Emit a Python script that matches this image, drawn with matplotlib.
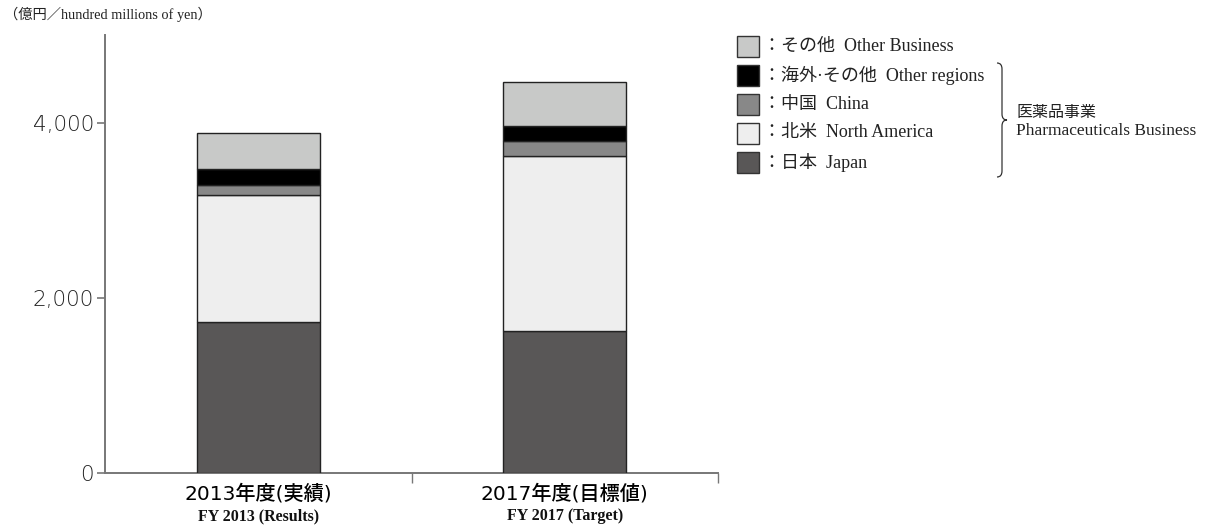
import matplotlib
matplotlib.use('Agg')
import matplotlib.pyplot as plt
from matplotlib.patches import Rectangle, PathPatch
from matplotlib.path import Path

# 売上高 (億円) : 2013年度実績 / 2017年度目標
years_jp = ['2013年度(実績)', '2017年度(目標値)']
years_en = ['FY 2013 (Results)', 'FY 2017 (Target)']
japan = [1720, 1620]
north_america = [1450, 2000]
china = [120, 165]
other_regions = [175, 180]
other_business = [415, 495]

segments = [
    (japan, '#595757', '：日本  Japan'),
    (north_america, '#eeeeee', '：北米  North America'),
    (china, '#888888', '：中国  China'),
    (other_regions, '#000000', '：海外·その他  Other regions'),
    (other_business, '#c8c9c8', '：その他  Other Business'),
]

W, H = 1205, 531
SERIF_JP = ['Liberation Serif', 'Noto Sans CJK JP']
SANS_JP = ['Noto Sans CJK JP', 'DejaVu Sans']
ROUND_JP = ['DejaVu Sans', 'Noto Sans CJK JP']

fig = plt.figure(figsize=(W / 100, H / 100), dpi=100)
ax = fig.add_axes([105 / W, 1 - 473 / H, (718 - 105) / W, (473 - 35) / H])


def px(x, y):
    return x / W, 1 - y / H


# 積み上げ棒
x = [0, 1]
bottom = [0, 0]
for values, color, _ in segments:
    ax.bar(x, values, width=0.4, bottom=bottom, color=color,
           edgecolor='#222222', linewidth=1.0, zorder=3)
    bottom = [b + v for b, v in zip(bottom, values)]

ax.set_xlim(-0.5, 1.5)
ax.set_ylim(0, 5000)
ax.set_yticks([0, 2000, 4000])
ax.set_yticklabels(['0', '2,000', '4,000'], fontfamily='DejaVu Sans',
                   fontweight='light', fontsize=15.5, color='#222222')
ax.tick_params(axis='y', direction='out', length=6, width=1.2,
               color='#777777', pad=2)
ax.set_xticks([0.5, 1.5])
ax.set_xticklabels([])
ax.tick_params(axis='x', direction='out', length=7, width=1.0, color='#777777')
for side in ('top', 'right'):
    ax.spines[side].set_visible(False)
for side in ('left', 'bottom'):
    ax.spines[side].set_color('#777777')
    ax.spines[side].set_linewidth(1.4)

# 年度ラベル
for i in x:
    ax.text(i, -0.048, years_jp[i], transform=ax.get_xaxis_transform(),
            ha='center', va='center', fontsize=14.5, fontweight='medium',
            fontfamily=ROUND_JP, color='#000000')
    ax.text(i, -0.098, years_en[i], transform=ax.get_xaxis_transform(),
            ha='center', va='center', fontsize=11.5, fontweight='bold',
            fontfamily=SERIF_JP, color='#111111')

# 単位
fig.text(*px(4, 14), '（億円／hundred millions of yen）', ha='left', va='center',
         fontsize=10.3, fontfamily=SERIF_JP, color='#222222')

# 凡例
rows = [46, 75, 104, 133, 162]
for (values, color, label), y in zip(reversed(segments), rows):
    fig.patches.append(Rectangle(px(737, y + 10.5), 22 / W, 21 / H,
                                 transform=fig.transFigure, facecolor=color,
                                 edgecolor='#333333', linewidth=1.0))
    fig.text(*px(763, y), label, ha='left', va='center', fontsize=13,
             fontfamily=SERIF_JP, color='#222222')

# 医薬品事業の括弧
top, bot, mid, xb = 63, 177, 120, 1002
verts = [px(997, top), px(xb, top), px(xb, top + 6),
         px(xb, mid - 6), px(xb, mid), px(xb + 5, mid),
         px(xb, mid), px(xb, mid + 6),
         px(xb, bot - 6), px(xb, bot), px(997, bot)]
codes = [Path.MOVETO, Path.CURVE3, Path.CURVE3,
         Path.LINETO, Path.CURVE3, Path.CURVE3,
         Path.CURVE3, Path.CURVE3,
         Path.LINETO, Path.CURVE3, Path.CURVE3]
fig.patches.append(PathPatch(Path(verts, codes), transform=fig.transFigure,
                             facecolor='none', edgecolor='#333333', linewidth=0.9))
fig.text(*px(1016, 113), '医薬品事業', ha='left', va='center', fontsize=11.5,
         fontfamily=SANS_JP, color='#222222')
fig.text(*px(1016, 131), 'Pharmaceuticals Business', ha='left', va='center',
         fontsize=12.5, fontfamily=SERIF_JP, color='#222222')

fig.savefig('out.png', dpi=100)
